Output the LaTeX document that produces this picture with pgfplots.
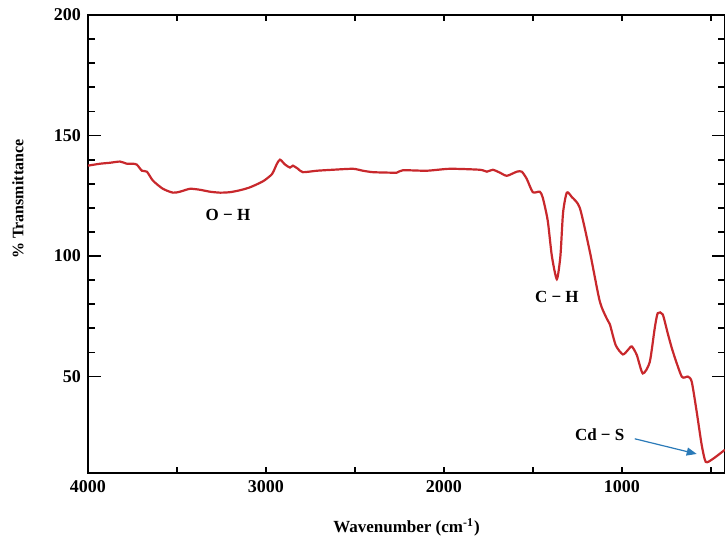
\documentclass[border=0pt]{standalone}
\usepackage{pgfplots}
\pgfplotsset{compat=1.18}
\usepackage{fontspec}
\setmainfont{Liberation Serif}
\usetikzlibrary{arrows.meta}
\definecolor{spec}{HTML}{C8282C}
\definecolor{arrowc}{HTML}{2A7AB8}

\begin{document}
\begin{tikzpicture}
\begin{axis}[
  scale only axis, width=318.5pt, height=229pt,
  x dir=reverse, xmin=420, xmax=4000, ymin=10, ymax=200,
  xtick={1000,2000,3000,4000}, minor xtick={500,1500,2500,3500},
  ytick={50,100,150,200}, minor y tick num=4,
  tick align=inside,
  major tick length=6.5pt, minor tick length=3.5pt,
  xtick style={/pgfplots/major tick length=3pt, /pgfplots/minor tick length=3pt},
  axis line style={line width=1pt}, every tick/.style={black, line width=0.9pt},
  /pgf/number format/assume math mode=true,
  /pgf/number format/1000 sep={},
  ticklabel style={font=\bfseries\fontsize{9}{10}\selectfont},
  xlabel={Wavenumber (cm\textsuperscript{-1})},
  ylabel={\% Transmittance},
  xlabel style={font=\bfseries\fontsize{8.5}{10}\selectfont, at={(axis description cs:0.5,0)}, anchor=base, yshift=-29.5pt},
  ylabel style={font=\bfseries\fontsize{8}{10}\selectfont, at={(axis description cs:-0.11,0.598)}, anchor=center},
  clip=false,
]
\addplot[spec, line width=1.1pt, smooth, tension=0.4] coordinates {
(4000,137.5) (3933,138.3) (3876,138.7) (3820,139.2) (3781,138.3) (3747,138.3)
(3725,137.9) (3697,135.4) (3669,135.0) (3635,131.3) (3579,127.9) (3522,126.3)
(3483,126.7) (3427,127.9) (3371,127.5) (3315,126.7) (3258,126.3) (3202,126.5)
(3146,127.3) (3090,128.5) (3017,131.0) (2966,134.0) (2940,138.0) (2921,140.0)
(2893,138.0) (2865,136.7) (2848,137.5) (2820,136.2) (2792,134.8) (2713,135.4)
(2624,135.8) (2511,136.2) (2455,135.4) (2399,134.8) (2303,134.6) (2264,134.6)
(2230,135.6) (2096,135.4) (1966,136.2) (1798,135.8) (1758,135.0) (1725,135.8)
(1685,134.6) (1646,133.3) (1590,135.0) (1562,135.0) (1534,132.0) (1500,126.5)
(1461,126.7) (1444,124.2) (1416,114.6) (1393,100.0) (1365,90.4) (1345,100.0)
(1330,118.0) (1309,126.3) (1281,124.5) (1236,120.0) (1180,102.0) (1124,81.3)
(1084,74.0) (1067,71.7) (1034,63.0) (994,59.2) (966,61.0) (944,62.5)
(916,59.0) (882,51.3) (843,56.0) (815,70.0) (798,76.3) (770,75.8)
(742,68.0) (713,60.4) (663,50.0) (629,50.0) (607,47.9) (579,35.4)
(551,21.7) (528,14.6) (489,15.8) (449,18.0) (421,19.6)
};
\node[font=\bfseries\fontsize{8.5}{10}\selectfont] at (axis cs:3213,117) {O − H};
\node[font=\bfseries\fontsize{8.5}{10}\selectfont] at (axis cs:1365,83) {C − H};
\node[font=\bfseries\fontsize{8.5}{10}\selectfont] at (axis cs:1124,26) {Cd − S};
\draw[arrowc, line width=0.6pt, -{Triangle[length=5pt, width=4pt]}] (axis cs:927,24.2) -- (axis cs:579,17.9);
\end{axis}
\pgfresetboundingbox
\path[use as bounding box] (-44pt,-32pt) rectangle (318.5pt,236.5pt);
\end{tikzpicture}
\end{document}
